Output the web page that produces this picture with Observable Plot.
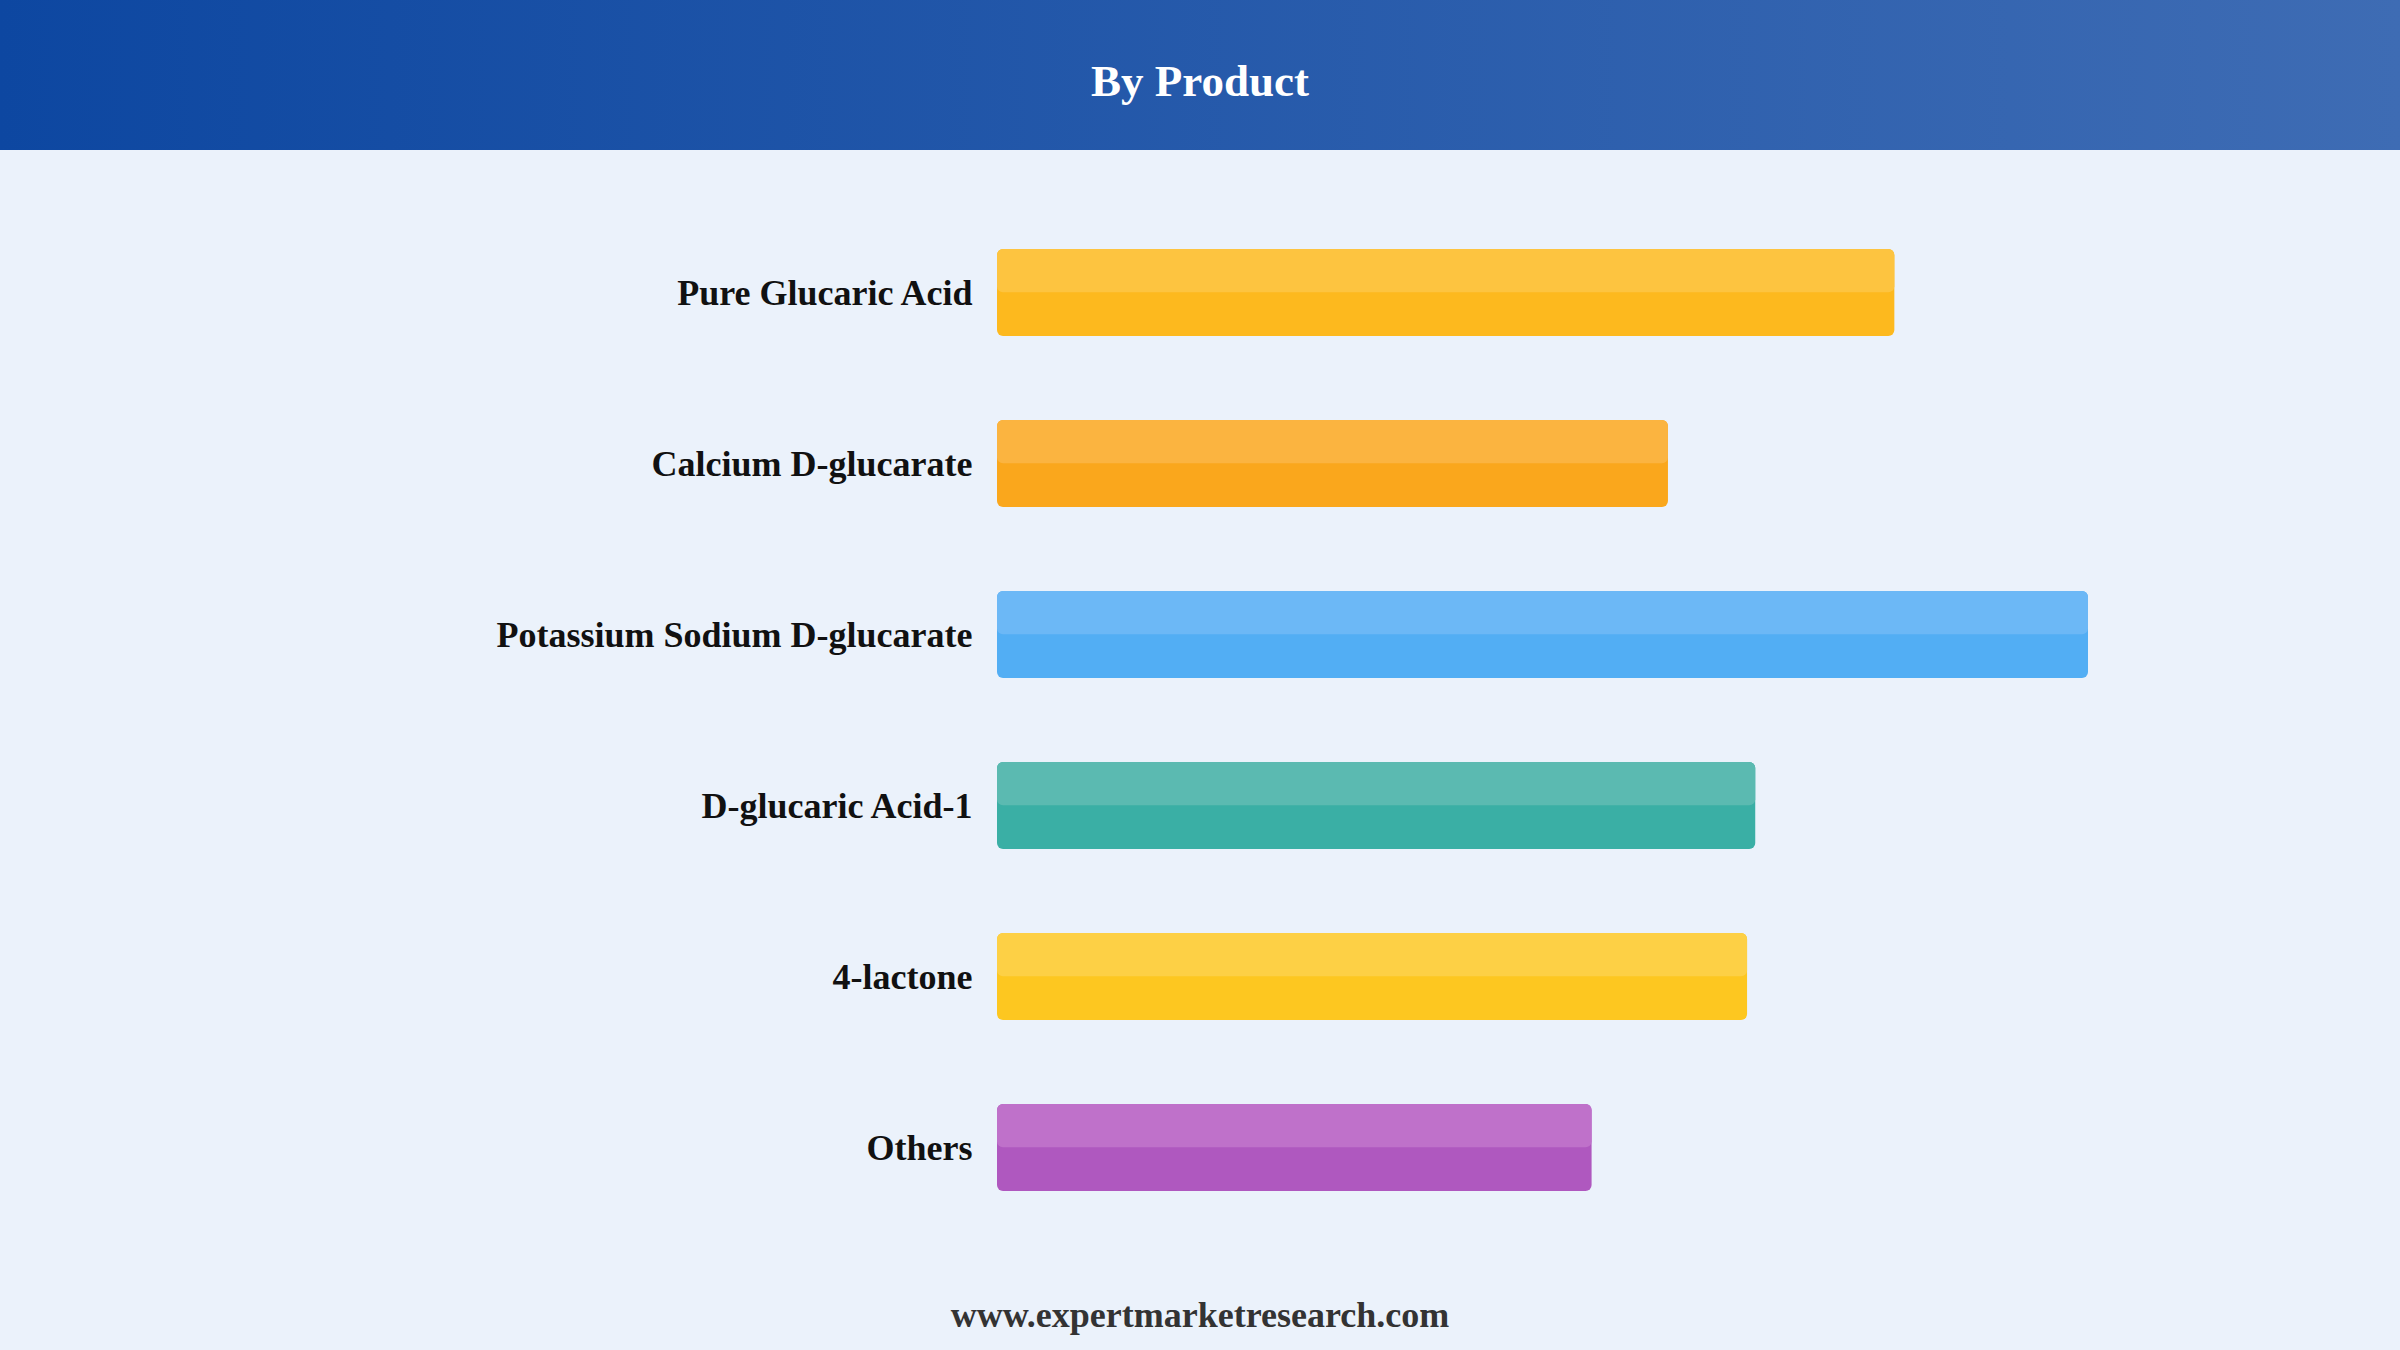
<!DOCTYPE html>
<html>
<head>
<meta charset="utf-8">
<script src="https://cdn.jsdelivr.net/npm/d3@7"></script>
<script src="https://cdn.jsdelivr.net/npm/@observablehq/plot@0.6"></script>
<style>
  html, body { margin: 0; padding: 0; background: #EBF2FB; width: 2400px; height: 1350px; overflow: hidden; }
  #header { height: 150px; box-sizing: border-box; padding-top: 13px; background: linear-gradient(to right, #0D47A1, #3E6CB4); display: flex; align-items: center; justify-content: center; }
  #header h1 { margin: 0; color: #fff; font-family: "Liberation Serif", "Times New Roman", serif; font-weight: bold; font-size: 45px; line-height: 1; }
  #chart svg { display: block; }
  #footer { height: 70px; line-height: 70px; text-align: center; font-family: "Liberation Serif", "Times New Roman", serif; font-weight: bold; font-size: 36px; color: #333; }
</style>
</head>
<body>
<div id="header"><h1>By Product</h1></div>
<div id="chart"></div>
<div id="footer">www.expertmarketresearch.com</div>
<script>
const categories = ["Pure Glucaric Acid", "Calcium D-glucarate", "Potassium Sodium D-glucarate", "D-glucaric Acid-1", "4-lactone", "Others"];
const values = [32.9, 24.6, 40.0, 27.8, 27.5, 21.8];
const darkColors = ["#FDB91E", "#FAA71C", "#52AEF4", "#3AAFA5", "#FDC720", "#AF58BF"];
const lightColors = ["#FDC440", "#FBB440", "#6CB8F6", "#5BBAB1", "#FDD045", "#BF71CA"];

const data = categories.map((c, i) => ({category: c, value: values[i], dark: darkColors[i], light: lightColors[i]}));

const H = 1130;
const bandStep = 171.7;
const pad = 0.49;
const bandwidth = bandStep * (1 - pad);

const chart = Plot.plot({
  width: 2400,
  height: H,
  marginTop: 12.6,
  marginBottom: 3.1,
  marginLeft: 997,
  marginRight: 312,
  style: { background: "#EBF2FB", fontFamily: "'Liberation Serif', 'Times New Roman', serif" },
  x: { domain: [0, 40], axis: null },
  y: { domain: categories, padding: pad, label: null },
  marks: [
    Plot.barX(data, { x: "value", y: "category", fill: "dark", rx: 6 }),
    Plot.barX(data, { x: "value", y: "category", fill: "light", rx: 6, insetBottom: bandwidth / 2 }),
    Plot.axisY({ tickSize: 0, tickPadding: 25, fontSize: 36, fontWeight: "bold", fill: "#111", label: null })
  ]
});
document.getElementById("chart").appendChild(chart);
</script>
</body>
</html>
